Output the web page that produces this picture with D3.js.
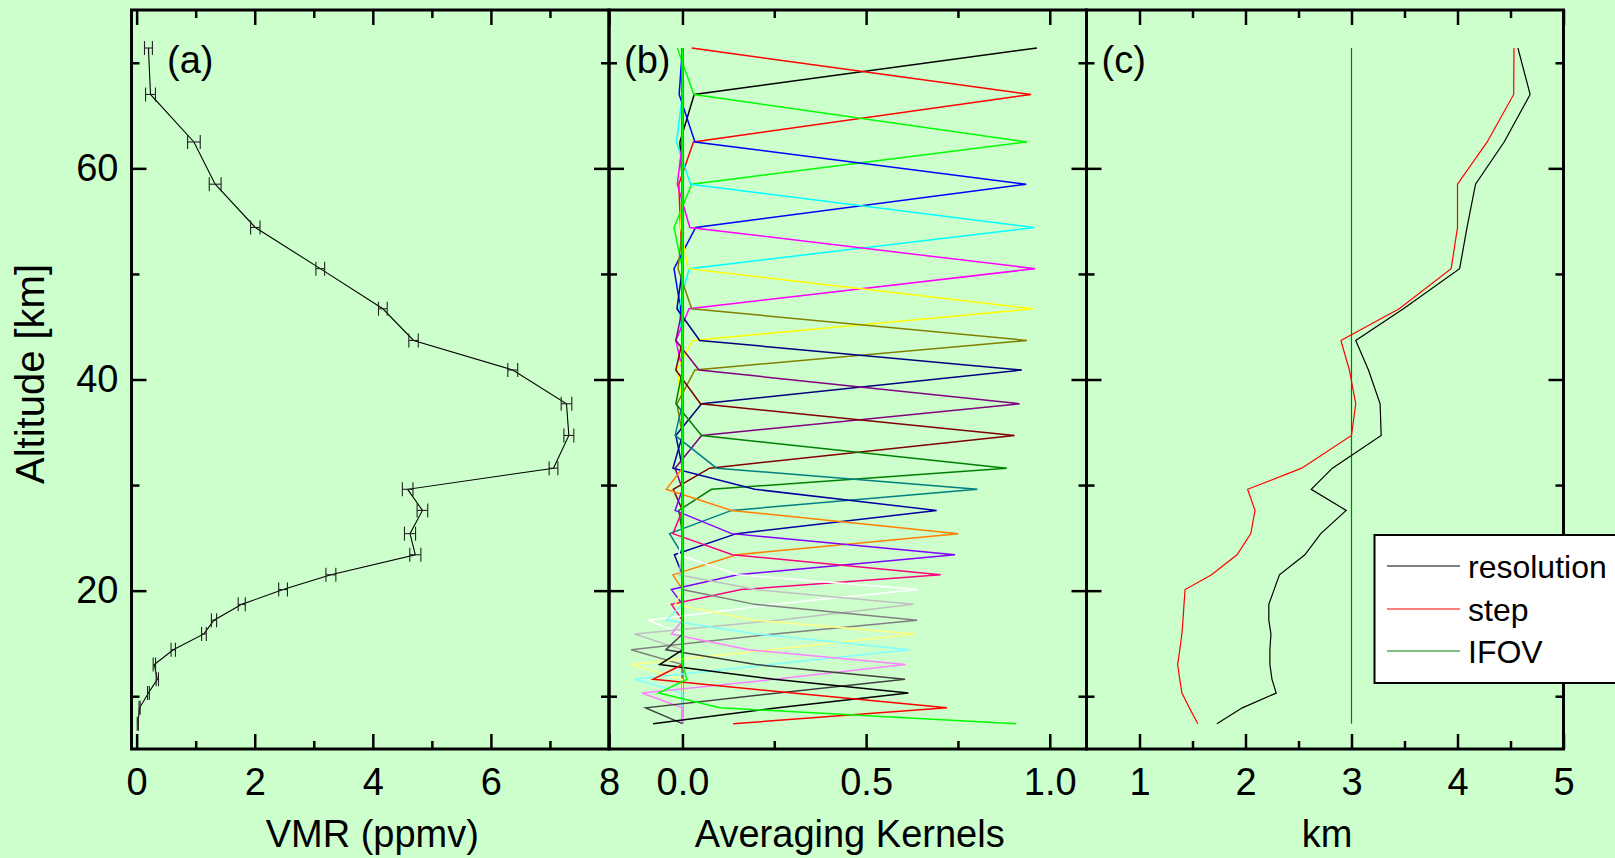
<!DOCTYPE html>
<html><head><meta charset="utf-8">
<script src="https://cdn.jsdelivr.net/npm/d3@7"></script>
<style>
html,body{margin:0;padding:0;background:#CCFFCC;}
svg{display:block;}
text{font-family:"Liberation Sans",Arial,sans-serif;fill:#000;}
</style>
</head><body>
<svg id="chart" width="1615" height="858"></svg>
<script>
// ---------------- data ----------------
const altitudes = [71.4, 67.0, 62.5, 58.5, 54.4, 50.5, 46.7, 43.7, 40.9, 37.7, 34.7, 31.6, 29.6, 27.6, 25.4, 23.4, 21.5, 20.1, 18.7, 17.2, 15.9, 14.4, 13.0, 11.6, 10.3, 8.9, 7.4];
const vmr = [0.20, 0.235, 0.97, 1.33, 2.01, 3.11, 4.17, 4.69, 6.37, 7.28, 7.32, 7.06, 4.59, 4.84, 4.63, 4.72, 3.29, 2.48, 1.78, 1.31, 1.14, 0.62, 0.30, 0.35, 0.20, 0.05, 0.02];
const vmrErr = [0.067, 0.084, 0.107, 0.10, 0.08, 0.074, 0.074, 0.08, 0.084, 0.09, 0.084, 0.074, 0.09, 0.09, 0.094, 0.094, 0.084, 0.074, 0.06, 0.044, 0.04, 0.037, 0.02, 0.02, 0.015, 0.01, 0.01];

const kernelColors = ["#000000","#FF0000","#00FF00","#0000FF","#00FFFF","#FF00FF","#FFFF00","#808000","#000080","#800080","#800000","#008000","#008080","#0000A0","#FF8000","#8000FF","#FF0080","#FFFFFF","#C0C0C0","#808080","#FFFF80","#80FFFF","#FF80FF","#404040","#000000","#FF0000","#00FF00"];
const kernels = [
 [0.965,0.032,-0.007,0,0,0,0,0,0, 0,0,0,0,0,0,0,0,0, 0,0,0,0,0,0,0,0,0],
 [0.025,0.949,0.030,-0.010,-0.005,0,0,0,0, 0,0,0,0,0,0,0,0,0, 0,0,0,0,0,0,0,0,0],
 [-0.014,0.031,0.938,0.025,-0.023,0,0,0,0, 0,0,0,0,0,0,0,0,0, 0,0,0,0,0,0,0,0,0],
 [0,-0.009,0.034,0.936,0.036,-0.023,-0.005,0,0, 0,0,0,0,0,0,0,0,0, 0,0,0,0,0,0,0,0,0],
 [0,0,-0.016,0.022,0.958,0.018,-0.010,0,0, 0,0,0,0,0,0,0,0,0, 0,0,0,0,0,0,0,0,0],
 [0,0,0,-0.014,0.020,0.960,0.018,-0.018,0, 0,0,0,0,0,0,0,0,0, 0,0,0,0,0,0,0,0,0],
 [0,0,0,0,-0.005,0.015,0.954,0.027,-0.015, 0,0,0,0,0,0,0,0,0, 0,0,0,0,0,0,0,0,0],
 [0,0,0,0,0,-0.012,0.025,0.938,0.034, -0.015,0,0,0,0,0,0,0,0, 0,0,0,0,0,0,0,0,0],
 [0,0,0,0,0,0,-0.015,0.047,0.924, 0.052,-0.018,0,0,0,0,0,0,0, 0,0,0,0,0,0,0,0,0],
 [0,0,0,0,0,0,0,-0.018,0.045, 0.918,0.052,-0.020,0,0,0,0,0,0, 0,0,0,0,0,0,0,0,0],
 [0,0,0,0,0,0,0,0,-0.018, 0.049,0.904,0.074,-0.025,0,0,0,0,0, 0,0,0,0,0,0,0,0,0],
 [0,0,0,0,0,0,0,0,0, -0.018,0.052,0.883,0.079,-0.010,0,0,0,0, 0,0,0,0,0,0,0,0,0],
 [0,0,0,0,0,0,0,0,0, 0,-0.020,0.093,0.803,0.134,-0.035,0,0,0, 0,0,0,0,0,0,0,0,0],
 [0,0,0,0,0,0,0,0,0, 0,0,-0.026,0.197,0.692,0.147,-0.022,0,0, 0,0,0,0,0,0,0,0,0],
 [0,0,0,0,0,0,0,0,0, 0,0,0,-0.044,0.134,0.751,0.147,-0.026,0, 0,0,0,0,0,0,0,0,0],
 [0,0,0,0,0,0,0,0,0, 0,0,0,0,-0.020,0.134,0.742,0.150,-0.030, 0,0,0,0,0,0,0,0,0],
 [0,0,0,0,0,0,0,0,0, 0,0,0,0,0,-0.026,0.136,0.703,0.160, -0.030,0,0,0,0,0,0,0,0],
 [0,0,0,0,0,0,0,0,0, 0,0,0,0,0,0,-0.010,0.150,0.640, 0.250,-0.094,0,0,0,0,0,0,0],
 [0,0,0,0,0,0,0,0,0, 0,0,0,0,0,0,0,-0.010,0.200, 0.629,0.260,-0.130,0,0,0,0,0,0],
 [0,0,0,0,0,0,0,0,0, 0,0,0,0,0,0,0,0,0, 0.197,0.639,0.250,-0.140,0,0,0,0,0],
 [0,0,0,0,0,0,0,0,0, 0,0,0,0,0,0,0,0,0, -0.020,0.197,0.633,0.240,-0.140,0,0,0,0],
 [0,0,0,0,0,0,0,0,0, 0,0,0,0,0,0,0,0,0, 0,-0.044,0.200,0.618,0.240,-0.130,0,0,0],
 [0,0,0,0,0,0,0,0,0, 0,0,0,0,0,0,0,0,0, 0,0,-0.030,0.180,0.607,0.250,-0.110,0,0],
 [0,0,0,0,0,0,0,0,0, 0,0,0,0,0,0,0,0,0, 0,0,0,-0.045,0.200,0.606,0.260,-0.100,0],
 [0,0,0,0,0,0,0,0,0, 0,0,0,0,0,0,0,0,0, 0,0,0,0,-0.062,0.250,0.615,0.260,-0.080],
 [0,0,0,0,0,0,0,0,0, 0,0,0,0,0,0,0,0,0, 0,0,0,0,0,-0.080,0.300,0.720,0.138],
 [0,0,0,0,0,0,0,0,0, 0,0,0,0,0,0,0,0,0, 0,0,0,0,0,0.012,-0.065,0.102,0.908]
];

const resolution = [4.57, 4.685, 4.44, 4.17, 4.09, 4.02, 3.49, 3.04, 3.16, 3.27, 3.28, 2.82, 2.62, 2.95, 2.71, 2.56, 2.32, 2.27, 2.22, 2.22, 2.24, 2.23, 2.23, 2.25, 2.29, 1.97, 1.73];
const step = [4.533, 4.530, 4.28, 4.00, 4.00, 3.94, 3.45, 2.90, 2.98, 3.04, 3.00, 2.53, 2.02, 2.09, 2.05, 1.92, 1.68, 1.43, 1.42, 1.41, 1.40, 1.38, 1.36, 1.38, 1.40, 1.47, 1.55];
const ifov = [3.0, 3.0];
const ifovAlt = [71.4, 7.4];

const altMajor = [20, 40, 60];
const altMinor = [10, 30, 50, 70];
const vmrMajor = [0, 2, 4, 6, 8];
const vmrMinor = [1, 3, 5, 7];
const akMajor = [0, 0.5, 1.0];
const akMinor = [0.25, 0.75];
const kmMajor = [1, 2, 3, 4, 5];
const kmMinor = [1.5, 2.5, 3.5, 4.5];
const panelLabels = ["(a)", "(b)", "(c)"];
const xTitles = ["VMR (ppmv)", "Averaging Kernels", "km"];
const yTitle = "Altitude [km]";
const legendLabels = ["resolution", "step", "IFOV"];
const legendColors = ["#000000", "#FF0000", "#008000"];

// ---------------- layout ----------------
const svg = d3.select("#chart");
const yTop = 10, yBot = 749;
const y = d3.scaleLinear().domain([5, 75]).range([yBot, yTop]);
const xa = d3.scaleLinear().domain([-0.087, 8]).range([131.5, 609]);
const xb = d3.scaleLinear().domain([-0.2, 1.1]).range([609, 1086.5]);
const xc = d3.scaleLinear().domain([0.5, 5]).range([1086.5, 1563.5]);
const panels = [
  {x: xa, major: vmrMajor, minor: vmrMinor, fmt: d3.format("d"), labelX: 167},
  {x: xb, major: akMajor, minor: akMinor, fmt: d3.format(".1f"), labelX: 624},
  {x: xc, major: kmMajor, minor: kmMinor, fmt: d3.format("d"), labelX: 1101.5}
];
const FS = 38;
const MAJ = 15, MIN = 8;

function styleAxis(g) {
  g.select(".domain").remove();
  g.selectAll(".tick line").attr("stroke", "#000").attr("stroke-width", 2.5);
  g.attr("font-family", null).attr("font-size", null);
  g.selectAll("text").style("font-size", FS + "px");
}

// ---------------- data marks ----------------
// panel (a)
const gA = svg.append("g");
const pts = altitudes.map((a, i) => ({alt: a, v: vmr[i], e: vmrErr[i]}));
gA.append("path").datum(pts)
  .attr("fill", "none").attr("stroke", "#000").attr("stroke-width", 1.1)
  .attr("d", d3.line().x(d => xa(d.v)).y(d => y(d.alt)));
const eb = gA.selectAll("g.eb").data(pts).join("g").attr("class", "eb")
  .attr("stroke", "#222").attr("stroke-width", 1.1);
eb.append("line").attr("x1", d => xa(d.v - d.e)).attr("x2", d => xa(d.v + d.e))
  .attr("y1", d => y(d.alt)).attr("y2", d => y(d.alt));
eb.append("line").attr("x1", d => xa(d.v - d.e)).attr("x2", d => xa(d.v - d.e))
  .attr("y1", d => y(d.alt) - 7).attr("y2", d => y(d.alt) + 7);
eb.append("line").attr("x1", d => xa(d.v + d.e)).attr("x2", d => xa(d.v + d.e))
  .attr("y1", d => y(d.alt) - 7).attr("y2", d => y(d.alt) + 7);

// panel (b)
const gB = svg.append("g");
kernels.forEach((row, k) => {
  const d = row.slice(0, altitudes.length).map((v, i) => ({v: v, alt: altitudes[i]}));
  gB.append("path").datum(d)
    .attr("fill", "none").attr("stroke", kernelColors[k]).attr("stroke-width", 1.5)
    .attr("stroke-linejoin", "miter")
    .attr("d", d3.line().x(p => xb(p.v)).y(p => y(p.alt)));
});

// panel (c)
const gC = svg.append("g");
const lineC = d3.line().x(p => xc(p.v)).y(p => y(p.alt));
gC.append("path").datum(ifov.map((v, i) => ({v: v, alt: ifovAlt[i]})))
  .attr("fill", "none").attr("stroke", "#008000").attr("stroke-width", 1.2).attr("d", lineC);
gC.append("path").datum(step.map((v, i) => ({v: v, alt: altitudes[i]})))
  .attr("fill", "none").attr("stroke", "#FF0000").attr("stroke-width", 1.2).attr("d", lineC);
gC.append("path").datum(resolution.map((v, i) => ({v: v, alt: altitudes[i]})))
  .attr("fill", "none").attr("stroke", "#000").attr("stroke-width", 1.2).attr("d", lineC);

// ---------------- axes ----------------
panels.forEach((p, i) => {
  const r = p.x.range();
  svg.append("g").attr("transform", `translate(0,${yBot})`)
    .call(d3.axisBottom(p.x).tickValues(p.major).tickSize(-MAJ).tickPadding(19).tickFormat(p.fmt))
    .call(styleAxis);
  svg.append("g").attr("transform", `translate(0,${yBot})`)
    .call(d3.axisBottom(p.x).tickValues(p.minor).tickSize(-MIN).tickFormat(""))
    .call(styleAxis);
  svg.append("g").attr("transform", `translate(0,${yTop})`)
    .call(d3.axisTop(p.x).tickValues(p.major).tickSize(-MAJ).tickFormat(""))
    .call(styleAxis);
  svg.append("g").attr("transform", `translate(0,${yTop})`)
    .call(d3.axisTop(p.x).tickValues(p.minor).tickSize(-MIN).tickFormat(""))
    .call(styleAxis);
  svg.append("g").attr("transform", `translate(${r[0]},0)`)
    .call(d3.axisLeft(y).tickValues(altMajor).tickSize(-MAJ).tickPadding(13)
      .tickFormat(i === 0 ? d3.format("d") : ""))
    .call(styleAxis);
  svg.append("g").attr("transform", `translate(${r[0]},0)`)
    .call(d3.axisLeft(y).tickValues(altMinor).tickSize(-MIN).tickFormat(""))
    .call(styleAxis);
  svg.append("g").attr("transform", `translate(${r[1]},0)`)
    .call(d3.axisRight(y).tickValues(altMajor).tickSize(-MAJ).tickFormat(""))
    .call(styleAxis);
  svg.append("g").attr("transform", `translate(${r[1]},0)`)
    .call(d3.axisRight(y).tickValues(altMinor).tickSize(-MIN).tickFormat(""))
    .call(styleAxis);
  svg.append("rect").attr("x", r[0]).attr("y", yTop).attr("width", r[1] - r[0]).attr("height", yBot - yTop)
    .attr("fill", "none").attr("stroke", "#000").attr("stroke-width", 3);
  svg.append("text").attr("x", p.labelX).attr("y", 73).style("font-size", "38px").text(panelLabels[i]);
  svg.append("text").attr("x", (r[0] + r[1]) / 2 + 2).attr("y", 847).attr("text-anchor", "middle")
    .style("font-size", "38px").text(xTitles[i]);
});

svg.append("text").attr("transform", "translate(44,374) rotate(-90)").attr("text-anchor", "middle")
  .style("font-size", "40px").text(yTitle);

// ---------------- legend ----------------
const lg = svg.append("g");
lg.append("rect").attr("x", 1374.5).attr("y", 535).attr("width", 260).attr("height", 148)
  .attr("fill", "#FFFFFF").attr("stroke", "#000").attr("stroke-width", 2);
const ly = [566, 609, 651];
legendLabels.forEach((t, i) => {
  lg.append("line").attr("x1", 1387).attr("x2", 1460).attr("y1", ly[i]).attr("y2", ly[i])
    .attr("stroke", legendColors[i]).attr("stroke-width", 1.2);
  lg.append("text").attr("x", 1468).attr("y", ly[i] + 11.5).style("font-size", "32px").text(t);
});
</script>
</body></html>
